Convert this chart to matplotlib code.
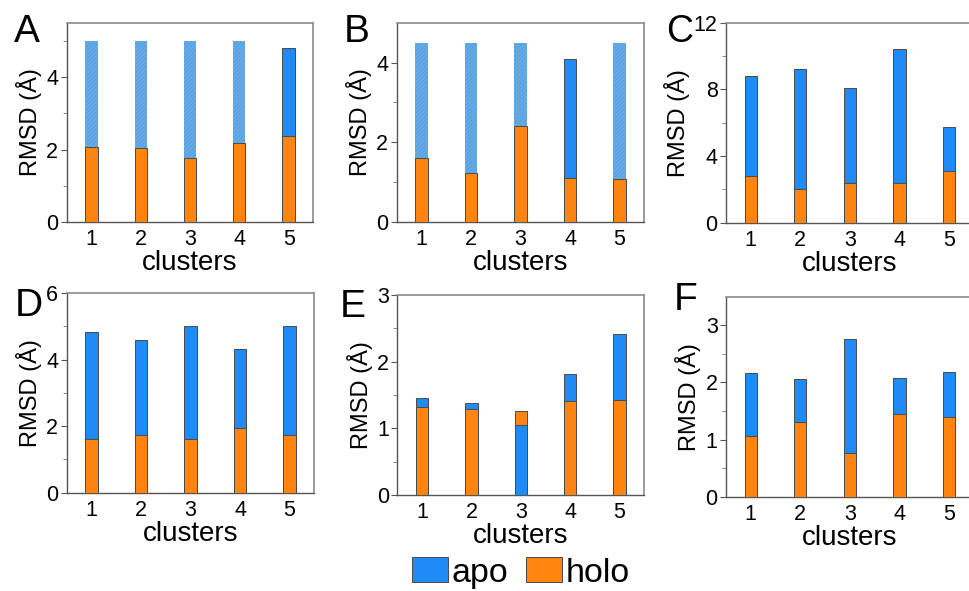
import matplotlib
matplotlib.use("Agg")
import matplotlib.pyplot as plt
import matplotlib.patches as mpatches
import numpy as np

plt.rcParams['font.family'] = ['Liberation Sans', 'DejaVu Sans']
plt.rcParams['hatch.linewidth'] = 0.4

clusters = [1, 2, 3, 4, 5]

panel_labels = ["A", "B", "C", "D", "E", "F"]

apo_A = [5.0, 5.0, 5.0, 5.0, 4.81]
holo_A = [2.07, 2.04, 1.76, 2.18, 2.36]
cap_A = [True, True, True, True, False]

apo_B = [4.5, 4.5, 4.5, 4.10, 4.5]
holo_B = [1.61, 1.24, 2.41, 1.10, 1.09]
cap_B = [True, True, True, False, True]

apo_C = [8.78, 9.24, 8.06, 10.40, 5.72]
holo_C = [2.78, 2.04, 2.40, 2.38, 3.10]
cap_C = [False] * 5

apo_D = [4.84, 4.60, 5.01, 4.33, 5.00]
holo_D = [1.60, 1.74, 1.61, 1.93, 1.72]
cap_D = [False] * 5

apo_E = [1.455, 1.375, 1.045, 1.815, 2.41]
holo_E = [1.32, 1.29, 1.255, 1.415, 1.43]
cap_E = [False] * 5

apo_F = [2.17, 2.06, 2.76, 2.075, 2.175]
holo_F = [1.055, 1.30, 0.77, 1.44, 1.39]
cap_F = [False] * 5

ylims = [5.5, 5.0, 12, 6, 3, 3.5]
major_ticks = [[0, 2, 4], [0, 2, 4], [0, 4, 8, 12], [0, 2, 4, 6], [0, 1, 2, 3], [0, 1, 2, 3]]
minor_ticks = [[1, 3, 5], [1, 3], [2, 6, 10], [1, 3, 5], [0.5, 1.5, 2.5], [0.5, 1.5, 2.5]]

apo_all = [apo_A, apo_B, apo_C, apo_D, apo_E, apo_F]
holo_all = [holo_A, holo_B, holo_C, holo_D, holo_E, holo_F]
cap_all = [cap_A, cap_B, cap_C, cap_D, cap_E, cap_F]

APO = '#1f8bf7'
APO_H = '#66abe6'
HOLO = '#ff8510'
EDGE = '#4a4a4a'

W, H = 969, 591
fig = plt.figure(figsize=(W / 100, H / 100), dpi=100)

boxes = [
    (66.7, 22.7, 246.6, 199.3),
    (396.7, 22.7, 247.6, 199.3),
    (726, 22.7, 247.6, 200.0),
    (66.7, 293, 247.6, 199.7),
    (397.3, 295, 247.0, 200.0),
    (726, 296.7, 247.6, 200.0),
]
letter_pos = [(27, 15), (357, 15), (680, 15), (29, 289), (353, 290), (686, 283)]

for i, (x0, y0, w, h) in enumerate(boxes):
    ax = fig.add_axes([x0 / W, (H - y0 - h) / H, w / W, h / H])
    apo = apo_all[i]
    holo = holo_all[i]
    caps = cap_all[i]
    for j, c in enumerate(clusters):
        a, ho = apo[j], holo[j]
        za = 2 if a >= ho else 3
        zh = 3 if a >= ho else 2
        if caps[j]:
            ax.bar(c, a, width=0.25, color=APO_H, edgecolor='#4b96dc',
                   hatch='////////', linewidth=0, zorder=za)
        else:
            ax.bar(c, a, width=0.25, color=APO, edgecolor=EDGE,
                   linewidth=0.7, zorder=za)
        ax.bar(c, ho, width=0.25, color=HOLO, edgecolor=EDGE,
               linewidth=0.7, zorder=zh)
    ax.set_xlim(0.5, 5.5)
    ax.set_ylim(0, ylims[i])
    ax.set_xticks(clusters)
    ax.set_yticks(major_ticks[i])
    ax.set_yticks(minor_ticks[i], minor=True)
    ax.tick_params(axis='both', which='major', labelsize=15.5, length=4,
                   width=0.8, color='#555555', pad=2)
    ax.tick_params(axis='y', which='minor', length=3, width=0.6, color='#777777')
    ax.tick_params(axis='x', which='major', length=0, pad=5)
    for s in ['top', 'right']:
        ax.spines[s].set_color('#8a8a8a')
        ax.spines[s].set_linewidth(1.2)
    for s in ['left', 'bottom']:
        ax.spines[s].set_color('#555555')
        ax.spines[s].set_linewidth(1.0)
    ax.set_xlabel('clusters', fontsize=20, labelpad=0)
    ax.set_ylabel('RMSD (Å)', fontsize=17, labelpad=3)
    lx, ly = letter_pos[i]
    fig.text(lx / W, (H - ly + 1) / H, panel_labels[i],
             fontsize=(27 if i == 2 else 28), ha='center', va='top')

handles = [mpatches.Patch(facecolor=APO, edgecolor=EDGE, linewidth=0.7, label='apo'),
           mpatches.Patch(facecolor=HOLO, edgecolor=EDGE, linewidth=0.7, label='holo')]
fig.legend(handles=handles, loc='center', bbox_to_anchor=(521 / W, (H - 573) / H),
           ncol=2, frameon=False, fontsize=24.5, handlelength=1.06, handleheight=0.76,
           handletextpad=0.12, columnspacing=0.5, borderpad=0)

fig.savefig('out.png', dpi=100)
